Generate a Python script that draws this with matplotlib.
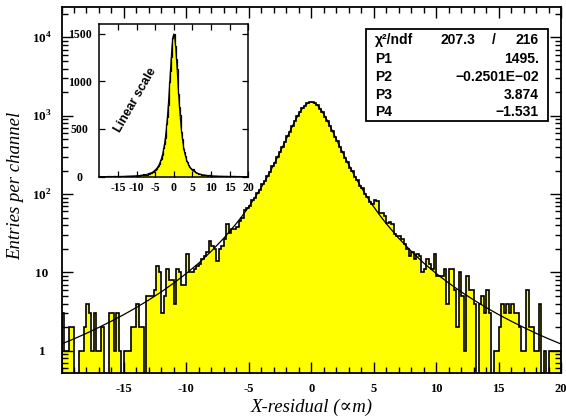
import numpy as np
import matplotlib
matplotlib.use("Agg")
import matplotlib.pyplot as plt
from matplotlib.ticker import MultipleLocator, LogLocator, NullFormatter

plt.rcParams["axes.unicode_minus"] = False
plt.rcParams["mathtext.fontset"] = "custom"
plt.rcParams["mathtext.rm"] = "Liberation Serif:bold"
plt.rcParams["mathtext.bf"] = "Liberation Serif:bold"

# contagens por canal (200 canais de 0.2 entre -20 e 20)
counts = [
    3, 1, 1, 2, 2, 0, 0, 1, 1, 2,
    4, 3, 1, 3, 1, 1, 2, 0, 0, 3,
    3, 1, 3, 1, 0, 1, 1, 1, 2, 2,
    4, 2, 2, 0, 5, 5, 5, 6, 12, 10,
    3, 5, 11, 8, 8, 4, 11, 10, 7, 7,
    17, 10, 10, 11, 12, 13, 15, 16, 18, 25,
    22, 20, 14, 20, 22, 27, 42, 32, 36, 36,
    38, 45, 50, 62, 66, 70, 84, 88, 104, 112,
    133, 145, 170, 190, 226, 250, 300, 340, 405, 462,
    552, 630, 748, 852, 995, 1108, 1255, 1350, 1452, 1481,
    1490, 1437, 1370, 1235, 1125, 978, 866, 735, 645, 540,
    472, 395, 350, 290, 260, 218, 196, 165, 150, 127,
    118, 99, 93, 79, 75, 85, 82, 57, 57, 52,
    43, 44, 42, 31, 29, 29, 27, 23, 20, 16,
    18, 15, 17, 16, 10, 11, 15, 13, 11, 17,
    9, 9, 9, 11, 4, 11, 11, 6, 2, 10,
    5, 1, 9, 6, 6, 4, 0, 4, 5, 3,
    6, 3, 0, 1, 1, 2, 4, 3, 4, 3,
    4, 3, 3, 2, 1, 1, 6, 2, 2, 1,
    1, 4, 0, 1, 0, 1, 1, 1, 1, 1,
]

# curva do ajuste
fit_x = [-20, -19, -18, -17, -16, -15, -14, -13, -12, -11, -10, -9, -8, -7, -6,
         -5.5, -5, -4.5, -4, -3.5, -3, -2.75, -2.5, -2.25, -2, -1.75, -1.5,
         -1.25, -1, -0.75, -0.5, -0.25, 0, 0.25, 0.5, 0.75, 1, 1.25, 1.5, 1.75,
         2, 2.25, 2.5, 2.75, 3, 3.5, 4, 4.5, 5, 5.5, 6, 7, 8, 9, 10, 11, 12,
         13, 14, 15, 16, 17, 18, 19, 20]
fit_y = [1.22, 1.42, 1.67, 1.99, 2.39, 2.90, 3.57, 4.46, 5.66, 7.34, 9.72, 13.2,
         18.7, 27.4, 42.1, 53.4, 69.0, 90.9, 122, 168, 238, 285, 344, 416, 505,
         613, 742, 890, 1052, 1215, 1359, 1459, 1495, 1459, 1359, 1215, 1052,
         890, 742, 613, 505, 416, 344, 285, 238, 168, 122, 90.9, 69.0, 53.4,
         42.1, 27.4, 18.7, 13.2, 9.72, 7.34, 5.66, 4.46, 3.57, 2.90, 2.39,
         1.99, 1.67, 1.42, 1.22]

stat_names = ["P1", "P2", "P3", "P4"]
stat_values = ["1495.", "\u22120.2501E\u221202", "3.874", "\u22121.531"]
chi2_text = "207.3"
ndf_text = "216"

x_ticks = [-15, -10, -5, 0, 5, 10, 15, 20]
y_ticks = [1, 10, 100, 1000, 10000]
y_tick_labels = ["1", "10", r"$10^{2}$", r"$10^{3}$", r"$10^{4}$"]
inset_y_ticks = [0, 500, 1000, 1500]

edges = np.linspace(-20, 20, len(counts) + 1)
counts = np.array(counts, dtype=float)
# canais vazios vao para baixo do eixo no log
counts_log = np.where(counts > 0, counts, 0.1)

serif = ["Liberation Serif", "DejaVu Serif"]
sans = ["Liberation Sans", "DejaVu Sans"]

fig = plt.figure(figsize=(5.66, 4.20), dpi=100)
ax = fig.add_axes([61.5 / 566, 47 / 420, 499.5 / 566, 366 / 420])

ax.stairs(counts_log, edges, fill=True, color="#ffff00", baseline=0.1)
ax.stairs(counts_log, edges, color="black", lw=1.2, baseline=0.1)
ax.plot(fit_x, fit_y, color="black", lw=0.9)

ax.set_yscale("log")
ax.set_xlim(-20, 20)
ax.set_ylim(0.52, 2.45e4)

ax.set_xticks(x_ticks)
ax.set_xticklabels([str(t) for t in x_ticks], family=serif, fontweight="bold", fontsize=9)
ax.xaxis.set_minor_locator(MultipleLocator(1))
ax.set_yticks(y_ticks)
ax.set_yticklabels(y_tick_labels, family=serif, fontweight="bold", fontsize=9.5)
ax.yaxis.set_minor_locator(LogLocator(base=10, subs=np.arange(2, 10)))
ax.yaxis.set_minor_formatter(NullFormatter())
plt.setp(ax.get_yticklabels(), ha="center")

ax.tick_params(which="both", direction="in", top=True, right=True, width=1.0)
ax.tick_params(which="major", length=8)
ax.tick_params(which="minor", length=4)
ax.tick_params(axis="x", pad=7)
ax.tick_params(axis="y", pad=14)
for s in ax.spines.values():
    s.set_linewidth(1.3)

ax.set_xlabel("X-residual (\u221dm)", family=serif, style="italic", fontsize=13.5)
ax.xaxis.set_label_coords(0.5, -0.071)
ax.set_ylabel("Entries per channel", family=serif, style="italic", fontsize=13.5)
ax.yaxis.set_label_coords(-0.074, 0.511)

# caixa de estatisticas
box = plt.Rectangle((0.61, 0.689), 0.3646, 0.25, transform=ax.transAxes,
                    facecolor="white", edgecolor="black", lw=1.3, zorder=5)
ax.add_patch(box)
row_y = [0.910, 0.858, 0.809, 0.760, 0.713]
txt = dict(transform=ax.transAxes, family=sans, fontweight="bold", fontsize=10,
           va="center", zorder=6)
ax.text(0.628, row_y[0], "\u03c7\u00b2/ndf", ha="left", **txt)
ax.text(0.828, row_y[0], chi2_text, ha="right", **txt)
ax.text(0.866, row_y[0], "/", ha="center", **txt)
ax.text(0.956, row_y[0], ndf_text, ha="right", **txt)
for i in range(len(stat_names)):
    ax.text(0.628, row_y[i + 1], stat_names[i], ha="left", **txt)
    ax.text(0.956, row_y[i + 1], stat_values[i], ha="right", **txt)

# grafico pequeno em escala linear
ax_in = fig.add_axes([99.3 / 566, (420 - 176.7) / 420, 149 / 566, 152.7 / 420])
ax_in.stairs(counts, edges, fill=True, color="#ffff00", baseline=0)
ax_in.stairs(counts, edges, color="black", lw=0.9, baseline=0)
ax_in.plot(fit_x, fit_y, color="black", lw=0.8)
ax_in.set_xlim(-20, 20)
ax_in.set_ylim(0, 1600)
ax_in.set_xticks(x_ticks)
ax_in.set_xticklabels([str(t) for t in x_ticks], family=serif, fontweight="bold", fontsize=8.5)
ax_in.set_yticks(inset_y_ticks)
ax_in.set_yticklabels([str(t) for t in inset_y_ticks], family=serif, fontweight="bold", fontsize=8.5)
plt.setp(ax_in.get_yticklabels(), ha="center")
ax_in.tick_params(direction="in", top=True, right=True, length=4, width=0.9)
ax_in.tick_params(axis="x", pad=4)
ax_in.tick_params(axis="y", pad=14)
for s in ax_in.spines.values():
    s.set_linewidth(1.1)
ax_in.text(0.24, 0.5, "Linear scale", transform=ax_in.transAxes, rotation=60,
           ha="center", va="center", family=sans, fontweight="bold", fontsize=9)

fig.savefig("out.png", dpi=100)
